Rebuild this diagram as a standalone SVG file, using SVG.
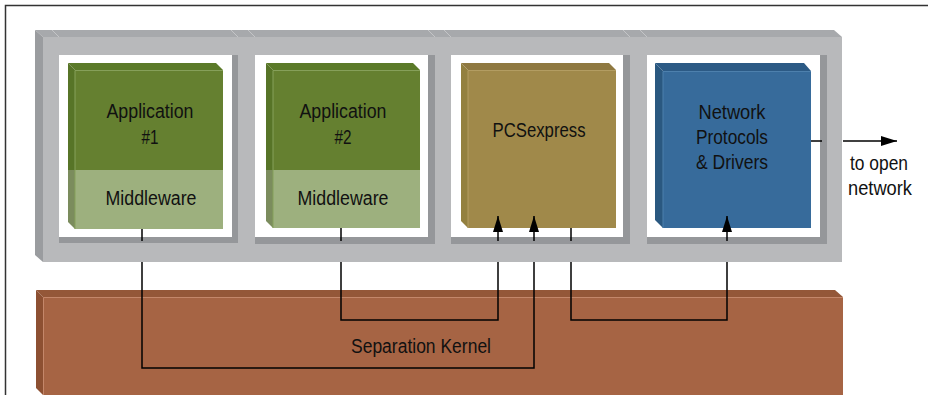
<svg xmlns="http://www.w3.org/2000/svg" width="928" height="395" viewBox="0 0 928 395">
<style>
text{font-family:"Liberation Sans",Arial,sans-serif;font-size:19.5px;fill:#111;text-anchor:middle}
.gf{fill:#b8b9bb}.gt{fill:#a7a9ac}.gl{fill:#9a9c9f}.ws{fill:#95979a}.wh{fill:#fff}
.seam{stroke:#c4c5c7;stroke-width:1}
.conn{fill:none;stroke:#000;stroke-width:1.5}
.hl{fill:none;stroke-width:1}
</style>
<defs>
<marker id="arrow" viewBox="0 0 16 10" refX="16" refY="5" markerWidth="16" markerHeight="10" markerUnits="userSpaceOnUse" orient="auto">
<path d="M0,0 L16,5 L0,10 z" fill="#000"/>
</marker>
</defs>
<rect width="928" height="395" fill="#fff"/>
<path d="M5.5,395 V5.5 H928" fill="none" stroke="#333" stroke-width="1.5"/>

<g id="platform">
<rect class="gf" x="43" y="37" width="799" height="225"/>
<polygon class="gt" points="35,30 834,30 842,37 43,37"/>
<polygon class="gl" points="35,30 43,37 43,262 35,255"/>
<g class="seam">
<line x1="52" y1="30" x2="59" y2="37"/>
<line x1="231" y1="30" x2="238" y2="37"/>
<line x1="248" y1="30" x2="255" y2="37"/>
<line x1="428" y1="30" x2="435" y2="37"/>
<line x1="444" y1="30" x2="451" y2="37"/>
<line x1="623" y1="30" x2="630" y2="37"/>
<line x1="640" y1="30" x2="647" y2="37"/>
</g>
<rect class="ws" x="59" y="55" width="179" height="188"/>
<rect class="wh" x="59" y="55" width="173" height="182"/>
<rect class="ws" x="255" y="55" width="180" height="189"/>
<rect class="wh" x="255" y="55" width="173" height="182"/>
<rect class="ws" x="451" y="55" width="179" height="189"/>
<rect class="wh" x="451" y="55" width="172" height="182"/>
<rect class="ws" x="647" y="55" width="180" height="189"/>
<rect class="wh" x="647" y="55" width="173" height="182"/>
</g>

<g id="app1">
<polygon fill="#5b7a29" points="68,63 216,63 223,70 75,70"/>
<polygon fill="#577427" points="68,63 75,70 75,170 68,170"/>
<polygon fill="#7b8c5d" points="68,170 75,170 75,229 68,222"/>
<rect fill="#658030" x="75" y="70" width="148" height="100"/>
<rect fill="#9db07e" x="75" y="170" width="148" height="59"/>
<path class="hl" stroke="#86a05a" d="M75,229 V70.5 H223"/>
<text x="150" y="118" textLength="87" lengthAdjust="spacingAndGlyphs">Application</text>
<text x="150" y="144" textLength="17" lengthAdjust="spacingAndGlyphs">#1</text>
<text x="151" y="205" textLength="91" lengthAdjust="spacingAndGlyphs">Middleware</text>
</g>

<g id="app2">
<polygon fill="#5b7a29" points="266,63 413,63 420,70 273,70"/>
<polygon fill="#577427" points="266,63 273,70 273,170 266,170"/>
<polygon fill="#7b8c5d" points="266,170 273,170 273,228 266,221"/>
<rect fill="#658030" x="273" y="70" width="147" height="100"/>
<rect fill="#9db07e" x="273" y="170" width="147" height="58"/>
<path class="hl" stroke="#86a05a" d="M273,228 V70.5 H420"/>
<text x="343" y="118" textLength="87" lengthAdjust="spacingAndGlyphs">Application</text>
<text x="343" y="144" textLength="17" lengthAdjust="spacingAndGlyphs">#2</text>
<text x="343" y="205" textLength="91" lengthAdjust="spacingAndGlyphs">Middleware</text>
</g>

<g id="pcsexpress">
<polygon fill="#8f7941" points="461,63 609,63 616,70 468,70"/>
<polygon fill="#93803f" points="461,63 468,70 468,228 461,221"/>
<rect fill="#a0894a" x="468" y="70" width="148" height="158"/>
<path class="hl" stroke="#b39d62" d="M468,228 V70.5 H616"/>
<text x="539" y="137" textLength="93" lengthAdjust="spacingAndGlyphs">PCSexpress</text>
</g>

<g id="network">
<polygon fill="#2c5a85" points="655,63 804,63 811,71 663,71"/>
<polygon fill="#2a5880" points="655,63 663,71 663,228 655,220"/>
<rect fill="#376b9b" x="663" y="71" width="148" height="157"/>
<path class="hl" stroke="#4d80ad" d="M663,228 V71.5 H811"/>
<text x="732" y="119" textLength="67" lengthAdjust="spacingAndGlyphs">Network</text>
<text x="732" y="144" textLength="72" lengthAdjust="spacingAndGlyphs">Protocols</text>
<text x="732" y="169" textLength="72" lengthAdjust="spacingAndGlyphs">&amp; Drivers</text>
</g>

<g id="kernel">
<polygon fill="#945738" points="36,290 835,290 843,297 43,297"/>
<polygon fill="#8d5032" points="36,290 43,297 43,395 36,388"/>
<rect fill="#a66444" x="43" y="297" width="800" height="98"/>
<path class="hl" stroke="#c4876a" d="M43.5,395 V297.5 H843"/>
<text x="421" y="353" textLength="140" lengthAdjust="spacingAndGlyphs">Separation Kernel</text>
</g>

<g id="connectors">
<path class="conn" d="M142,229 V241"/>
<path class="conn" d="M142,262 V368 H534 V262"/>
<path class="conn" d="M534,241 V216" marker-end="url(#arrow)"/>
<path class="conn" d="M341,228 V241"/>
<path class="conn" d="M341,262 V320 H498 V262"/>
<path class="conn" d="M498,241 V216" marker-end="url(#arrow)"/>
<path class="conn" d="M571,228 V241"/>
<path class="conn" d="M571,262 V320 H727 V262"/>
<path class="conn" d="M727,241 V216" marker-end="url(#arrow)"/>
<path class="conn" d="M811,141 H822"/>
<path class="conn" d="M843,141 H897" marker-end="url(#arrow)"/>
</g>
<text x="879" y="170" textLength="58" lengthAdjust="spacingAndGlyphs">to open</text>
<text x="880" y="195" textLength="64" lengthAdjust="spacingAndGlyphs">network</text>
</svg>
